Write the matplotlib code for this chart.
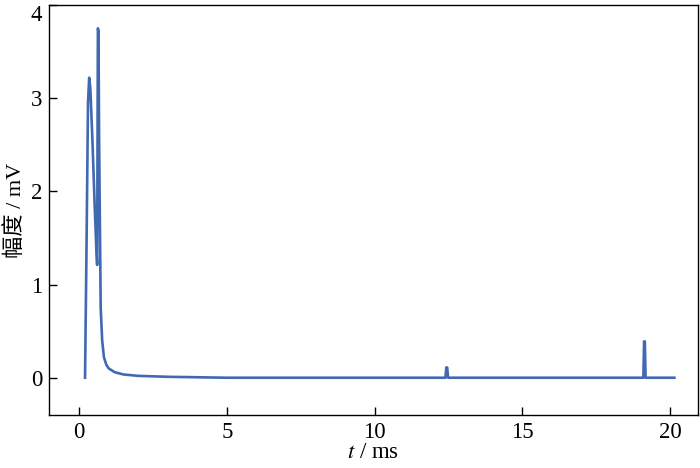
import matplotlib
matplotlib.use("Agg")
import matplotlib.pyplot as plt

# time (ms) and amplitude (mV)
t_ms = [0.20, 0.25, 0.30, 0.34, 0.38, 0.45, 0.52, 0.58, 0.61, 0.635, 0.655, 0.675,
        0.73, 0.78, 0.84, 0.92, 1.00, 1.20, 1.50, 2.00, 3.00, 4.00, 5.00, 8.00,
        12.40, 12.43, 12.46, 12.49, 19.10, 19.125, 19.15, 19.175, 20.15]
amp_mv = [0.00, 1.40, 2.95, 3.22, 3.10, 2.55, 1.90, 1.40, 1.21, 3.75, 3.72, 2.60,
          0.75, 0.40, 0.22, 0.14, 0.10, 0.06, 0.035, 0.02, 0.01, 0.005, 0.0, 0.0,
          0.0, 0.11, 0.11, 0.0, 0.0, 0.39, 0.39, 0.0, 0.0]

x_ticks = [0, 5, 10, 15, 20]
y_ticks = [0, 1, 2, 3, 4]

plt.rcParams['font.family'] = ['Liberation Serif', 'Noto Sans CJK SC']
plt.rcParams['mathtext.fontset'] = 'stix'

fig = plt.figure(figsize=(7.0, 4.68), dpi=100)
ax = fig.add_axes([49/700, 1 - 415/468, (698 - 49)/700, (415 - 5)/468])
ax.plot(t_ms, amp_mv, color='#4169B2', lw=1.9, solid_joinstyle='round')
ax.set_xlim(-1.02, 20.95)
ax.set_ylim(-0.40, 4.0)
ax.set_xticks(x_ticks)
ax.set_yticks(y_ticks)
ax.tick_params(direction='in', length=6, width=1, labelsize=16.5, pad=5)
ax.get_yticklabels()[-1].set_va('top')
for s in ax.spines.values():
    s.set_linewidth(1.0)
ax.set_xlabel(r'$t$ / ms', fontsize=16.5, labelpad=-1)
ax.set_ylabel('幅度 / mV', fontsize=16, labelpad=3)
fig.savefig('out.png', dpi=100)
